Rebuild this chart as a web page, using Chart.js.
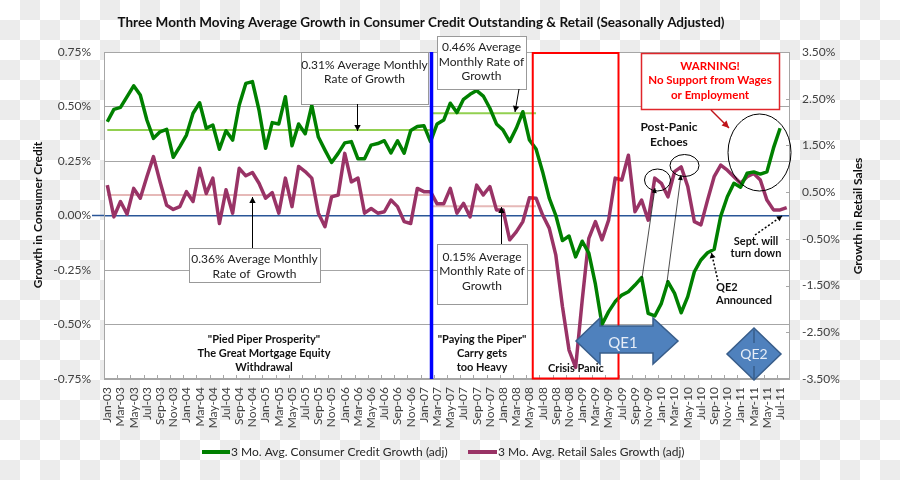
<!DOCTYPE html>
<html><head><meta charset="utf-8">
<script src="https://cdn.jsdelivr.net/npm/chart.js@4.4.1/dist/chart.umd.min.js"></script>
<style>
html,body{margin:0;padding:0;}
body{width:900px;height:480px;overflow:hidden;background:#fff repeating-conic-gradient(#ececec 0% 25%, #ffffff 0% 50%) 0 0/40px 40px;}
#wrap{position:relative;width:900px;height:480px;}
</style></head><body><div id="wrap"><canvas id="c" width="900" height="480"></canvas></div>
<script>
// ---------- DATA ----------
const months = [
'Jan-03','Feb-03','Mar-03','Apr-03','May-03','Jun-03','Jul-03','Aug-03','Sep-03','Oct-03','Nov-03','Dec-03',
'Jan-04','Feb-04','Mar-04','Apr-04','May-04','Jun-04','Jul-04','Aug-04','Sep-04','Oct-04','Nov-04','Dec-04',
'Jan-05','Feb-05','Mar-05','Apr-05','May-05','Jun-05','Jul-05','Aug-05','Sep-05','Oct-05','Nov-05','Dec-05',
'Jan-06','Feb-06','Mar-06','Apr-06','May-06','Jun-06','Jul-06','Aug-06','Sep-06','Oct-06','Nov-06','Dec-06',
'Jan-07','Feb-07','Mar-07','Apr-07','May-07','Jun-07','Jul-07','Aug-07','Sep-07','Oct-07','Nov-07','Dec-07',
'Jan-08','Feb-08','Mar-08','Apr-08','May-08','Jun-08','Jul-08','Aug-08','Sep-08','Oct-08','Nov-08','Dec-08',
'Jan-09','Feb-09','Mar-09','Apr-09','May-09','Jun-09','Jul-09','Aug-09','Sep-09','Oct-09','Nov-09','Dec-09',
'Jan-10','Feb-10','Mar-10','Apr-10','May-10','Jun-10','Jul-10','Aug-10','Sep-10','Oct-10','Nov-10','Dec-10',
'Jan-11','Feb-11','Mar-11','Apr-11','May-11','Jun-11','Jul-11','Aug-11'];

// 3 Mo. Avg. Consumer Credit Growth (adj), % (left axis)
const consumerCredit = [
0.43,0.487,0.496,0.545,0.595,0.553,0.438,0.354,0.384,0.395,0.267,0.316,
0.369,0.469,0.517,0.40,0.415,0.304,0.389,0.346,0.507,0.606,0.614,0.484,
0.308,0.426,0.42,0.545,0.32,0.42,0.375,0.505,0.36,0.30,0.243,0.285,
0.333,0.339,0.26,0.26,0.323,0.33,0.343,0.287,0.343,0.286,0.39,0.408,
0.412,0.339,0.42,0.438,0.515,0.472,0.533,0.556,0.573,0.548,0.492,0.42,
0.392,0.339,0.40,0.476,0.346,0.305,0.20,0.08,0.0,-0.115,-0.094,-0.19,
-0.118,-0.173,-0.315,-0.50,-0.441,-0.395,-0.365,-0.35,-0.319,-0.285,-0.449,-0.461,
-0.403,-0.304,-0.357,-0.446,-0.372,-0.258,-0.204,-0.171,-0.155,-0.003,0.086,0.148,
0.13,0.194,0.20,0.19,0.20,0.31,0.40,null];

// 3 Mo. Avg. Retail Sales Growth (adj), % (right axis)
const retailSales = [
0.65,-0.03,0.30,0.03,0.58,0.37,0.83,1.26,0.72,0.22,0.13,0.19,
0.51,0.30,1.01,0.47,0.80,-0.17,0.55,0.05,1.01,0.85,0.92,0.69,
0.37,0.49,0.05,0.80,0.19,1.05,0.94,0.80,0.05,-0.24,0.40,0.44,
1.33,0.72,0.80,0.05,0.15,0.05,0.08,0.33,0.19,-0.13,-0.17,0.58,
0.51,0.51,0.25,0.25,0.58,0.05,0.26,-0.03,0.65,0.44,0.62,0.12,
0.12,-0.52,-0.35,-0.13,0.38,0.37,0.01,-0.27,-0.85,-1.95,-2.88,-3.25,
-1.81,-0.49,-0.13,-0.52,-0.10,0.80,0.76,1.29,0.08,0.33,-0.10,0.80,
0.69,0.40,0.94,1.04,0.62,-0.13,-0.20,0.33,0.83,1.08,0.97,0.83,
0.69,0.83,0.90,0.76,0.33,0.12,0.12,0.17];

const leftTicks = [0.75,0.50,0.25,0,-0.25,-0.50,-0.75];
const rightTicks = [3.5,2.5,1.5,0.5,-0.5,-1.5,-2.5,-3.5];

// period averages as drawn (left axis for credit, right axis for retail)
const creditAvgBefore = 0.392, creditAvgAfter = 0.469;
const retailAvgBefore = 0.44, retailAvgAfter = 0.20;
const breakIndex = 49;   // Feb-07
const avgEndIndex = 65;  // Jun-08
const crisisStart = 64.5, crisisEnd = 77.5; // Jun-08 .. Jun-09

const seriesNames = ['3 Mo. Avg. Consumer Credit Growth (adj)','3 Mo. Avg. Retail Sales Growth (adj)'];

// ---------- STYLE ----------
const FONT = "Lato, 'Open Sans', sans-serif";
const GREEN = '#008000', PURPLE = '#993366';
const LGREEN = '#92d050', PINK = '#e6b9b8';
const GRID = '#a6a6a6', ZERO = '#2a5698';
const TXT = '#404040';

const seg = (val, from, to) => months.map((m,i)=> (i>=from && i<=to) ? val : null);

function arrow(ctx,x1,y1,x2,y2,color,lw,dash,L,W){
  L = L||6; W = W||3.2;
  ctx.save(); ctx.strokeStyle=color; ctx.fillStyle=color; ctx.lineWidth=lw;
  if(dash) ctx.setLineDash(dash);
  ctx.beginPath(); ctx.moveTo(x1,y1); ctx.lineTo(x2,y2); ctx.stroke(); ctx.setLineDash([]);
  const a=Math.atan2(y2-y1,x2-x1);
  ctx.beginPath(); ctx.moveTo(x2,y2);
  ctx.lineTo(x2-L*Math.cos(a)+W*Math.sin(a), y2-L*Math.sin(a)-W*Math.cos(a));
  ctx.lineTo(x2-L*Math.cos(a)-W*Math.sin(a), y2-L*Math.sin(a)+W*Math.cos(a));
  ctx.closePath(); ctx.fill(); ctx.restore();
}
function lines(ctx, arr, x, y0, dy, font, color, align){
  ctx.save(); ctx.font=font; ctx.fillStyle=color; ctx.textAlign=align||'center'; ctx.textBaseline='middle';
  arr.forEach((t,i)=>ctx.fillText(t,x,y0+i*dy)); ctx.restore();
}
function box(ctx,x,y,w,h,stroke,lw){
  ctx.save(); ctx.fillStyle='#fff'; ctx.fillRect(x,y,w,h);
  ctx.strokeStyle=stroke; ctx.lineWidth=lw||1; ctx.strokeRect(x+0.5,y+0.5,w,h); ctx.restore();
}
function ellipse(ctx,cx,cy,rx,ry){
  ctx.save(); ctx.strokeStyle='#000'; ctx.lineWidth=1; ctx.beginPath();
  ctx.ellipse(cx,cy,rx,ry,0,0,Math.PI*2); ctx.stroke(); ctx.restore();
}

const decor = {
  id:'decor',
  beforeDraw(chart){
    const {ctx, chartArea:a} = chart;
    ctx.save(); ctx.fillStyle='#fff'; ctx.fillRect(a.left,a.top,a.right-a.left,a.bottom-a.top); ctx.restore();
  },
  beforeDatasetsDraw(chart){
    const {ctx, chartArea:a, scales} = chart;
    ctx.save();
    ctx.strokeStyle=GRID; ctx.lineWidth=1;
    ctx.strokeRect(a.left+0.5,a.top+0.5,a.right-a.left-1,a.bottom-a.top-1);
    const xs=scales.x;
    ctx.beginPath();
    for(let k=2;k<months.length;k+=2){ const px=Math.round(xs.getPixelForValue(k-0.5))+0.5; ctx.moveTo(px,a.bottom); ctx.lineTo(px,a.bottom-4); }
    rightTicks.forEach(v=>{ const py=Math.round(scales.y1.getPixelForValue(v))+0.5; ctx.moveTo(a.right-4,py); ctx.lineTo(a.right,py); });
    ctx.stroke();
    const zy=scales.y.getPixelForValue(0);
    ctx.strokeStyle=ZERO; ctx.lineWidth=1.5; ctx.beginPath(); ctx.moveTo(a.left-12,zy); ctx.lineTo(a.left,zy); ctx.stroke();
    ctx.restore();
  },
  afterDatasetsDraw(chart){
    const {ctx, chartArea:a, scales} = chart;
    const xs=scales.x;
    const bx = xs.getPixelForValue(breakIndex)+1;
    ctx.save(); ctx.strokeStyle='#0000ff'; ctx.lineWidth=3.5; ctx.beginPath(); ctx.moveTo(bx,a.top); ctx.lineTo(bx,a.bottom); ctx.stroke();
    const cx1=xs.getPixelForValue(crisisStart), cx2=xs.getPixelForValue(crisisEnd);
    ctx.strokeStyle='#ff0000'; ctx.lineWidth=2; ctx.strokeRect(cx1,a.top+1,cx2-cx1,a.bottom-a.top-1.5);
    ctx.restore();

    const f11b = "bold 11px "+FONT, f12 = "12px "+FONT, f12b="bold 12px "+FONT;
    box(ctx,301,52,127,52,'#999'); lines(ctx,['0.31% Average Monthly','Rate of Growth'],364.5,65,14.5,f12,'#222');
    arrow(ctx,357.5,104,357.5,131,'#000',1);
    box(ctx,437,36,89,53,'#999'); lines(ctx,['0.46% Average','Monthly Rate of','Growth'],481.5,47.5,14.5,f12,'#222');
    arrow(ctx,519,89,515,112,'#000',1);
    box(ctx,189,248,131,34,'#999'); lines(ctx,['0.36% Average Monthly','Rate of  Growth'],254.5,259.5,14.5,f12,'#222');
    arrow(ctx,252.5,248,252.5,197,'#000',1);
    box(ctx,437,244,90,60,'#999'); lines(ctx,['0.15% Average','Monthly Rate of','Growth'],482,257,14.5,f12,'#222');
    arrow(ctx,501.5,244,501.5,207,'#000',1);

    lines(ctx,['"Pied Piper Prosperity"','The Great Mortgage Equity','Withdrawal'],264,339,14.3,f11b,'#111');
    lines(ctx,['"Paying the Piper"','Carry gets','too Heavy'],482,339,14.3,f11b,'#111');
    lines(ctx,['Crisis Panic'],576,368,14,f11b,'#111');

    ctx.save(); ctx.fillStyle='#4f81bd'; ctx.strokeStyle='#385d8a'; ctx.lineWidth=1.5;
    ctx.beginPath();
    [[576,341],[600,318],[600,326],[653,326],[653,318],[678,341],[653,364],[653,353],[600,353],[600,364]].forEach((p,i)=> i?ctx.lineTo(p[0],p[1]):ctx.moveTo(p[0],p[1]));
    ctx.closePath(); ctx.fill(); ctx.stroke();
    ctx.beginPath(); ctx.moveTo(754,328); ctx.lineTo(781,354); ctx.lineTo(754,380); ctx.lineTo(727,354); ctx.closePath(); ctx.fill(); ctx.stroke();
    ctx.strokeStyle='#385d8a'; ctx.lineWidth=1.5; ctx.beginPath(); ctx.moveTo(754,330); ctx.lineTo(754,343); ctx.moveTo(754,366); ctx.lineTo(754,379); ctx.stroke();
    ctx.restore();
    lines(ctx,['QE1'],623,343,14,"15px "+FONT,'#e6edf7');
    lines(ctx,['QE2'],754,354,14,"14px "+FONT,'#e6edf7');

    box(ctx,641,53,138,56,'#e0262b',1.5);
    lines(ctx,['WARNING!','No Support from Wages','or Employment'],710,66,14.5,"bold 11.5px "+FONT,'#ff0000');
    arrow(ctx,711,110,729,128,'#c0141a',1.5,null,7,3.5);
    ellipse(ctx,759.5,152.5,31.5,38.5);

    lines(ctx,['Post-Panic','Echoes'],669,127.5,14.5,f12b,'#111');
    ellipse(ctx,657.5,180,13,11);
    ellipse(ctx,684.5,165.5,14.5,11);
    arrow(ctx,642,278,655,188,'#000',0.7,null,5,2.5);
    arrow(ctx,667,282,681,175,'#000',0.7,null,5,2.5);

    lines(ctx,['Sept. will','turn down'],756,241,12.5,f11b,'#111');
    arrow(ctx,755,235,782,216,'#000',1.5,[2,2],5,3);
    lines(ctx,['QE2','Announced'],716,287.5,13,f11b,'#111','left');
    arrow(ctx,718,281,711.5,253,'#000',1.5,[2,2],5,3);
  },
  afterDraw(chart){
    const {ctx} = chart;
    lines(ctx,['Three Month Moving Average Growth in Consumer Credit Outstanding & Retail (Seasonally Adjusted)'],421,23,14,"bold 13.5px "+FONT,'#111');
    ctx.save(); ctx.font="bold 12px "+FONT; ctx.fillStyle='#111'; ctx.textAlign='center'; ctx.textBaseline='middle';
    ctx.translate(38,215); ctx.rotate(-Math.PI/2); ctx.fillText('Growth in Consumer Credit',0,0); ctx.restore();
    ctx.save(); ctx.font="bold 12px "+FONT; ctx.fillStyle='#111'; ctx.textAlign='center'; ctx.textBaseline='middle';
    ctx.translate(858,216); ctx.rotate(-Math.PI/2); ctx.fillText('Growth in Retail Sales',0,0); ctx.restore();
    ctx.save(); ctx.lineWidth=4; ctx.lineCap='butt';
    ctx.strokeStyle=GREEN; ctx.beginPath(); ctx.moveTo(202,452); ctx.lineTo(230,452); ctx.stroke();
    ctx.strokeStyle=PURPLE; ctx.beginPath(); ctx.moveTo(468,452); ctx.lineTo(497,452); ctx.stroke();
    ctx.restore();
    lines(ctx,[seriesNames[0]],231,452,14,"12px "+FONT,'#262626','left');
    lines(ctx,[seriesNames[1]],498,452,14,"12px "+FONT,'#262626','left');
  }
};

new Chart(document.getElementById('c'), {
  type:'line',
  data:{
    labels: months,
    datasets:[
      {label:seriesNames[0], data:consumerCredit, yAxisID:'y', borderColor:GREEN, borderWidth:3.5, pointRadius:0, tension:0, order:0, borderJoinStyle:'round'},
      {label:seriesNames[1], data:retailSales, yAxisID:'y1', borderColor:PURPLE, borderWidth:3.5, pointRadius:0, tension:0, order:1, borderJoinStyle:'round'},
      {label:'avg1', data:seg(creditAvgBefore,0,breakIndex), yAxisID:'y', borderColor:LGREEN, borderWidth:2, pointRadius:0, order:5},
      {label:'avg2', data:seg(creditAvgAfter,breakIndex,avgEndIndex), yAxisID:'y', borderColor:LGREEN, borderWidth:2, pointRadius:0, order:5},
      {label:'avg3', data:seg(retailAvgBefore,0,breakIndex), yAxisID:'y1', borderColor:PINK, borderWidth:2, pointRadius:0, order:5},
      {label:'avg4', data:seg(retailAvgAfter,breakIndex,avgEndIndex), yAxisID:'y1', borderColor:PINK, borderWidth:2, pointRadius:0, order:5}
    ]
  },
  options:{
    responsive:false, animation:false, devicePixelRatio:1,
    layout:{padding:{top:52,left:0,right:0,bottom:0}},
    plugins:{legend:{display:false}, title:{display:false}, tooltip:{enabled:false}},
    scales:{
      x:{
        type:'category', offset:true,
        grid:{display:false, drawTicks:false}, border:{display:false},
        ticks:{autoSkip:false, maxRotation:90, minRotation:90, padding:8, color:TXT, font:{family:FONT,size:12},
          callback:function(v,i){ return i%2===0 ? this.getLabelForValue(v) : ''; }},
        afterFit:s=>{ s.height=101; }
      },
      y:{
        position:'left', min:-0.75, max:0.75,
        afterBuildTicks:s=>{ s.ticks = leftTicks.map(v=>({value:v})); },
        grid:{drawTicks:false, color:c=> c.tick && c.tick.value===0 ? ZERO : GRID, lineWidth:c=> c.tick && c.tick.value===0 ? 1.5 : 1},
        border:{display:false},
        ticks:{padding:13, color:TXT, font:{family:FONT,size:12}, callback:v=>v.toFixed(2)+'%'},
        afterFit:s=>{ s.width=104; }
      },
      y1:{
        position:'right', min:-3.5, max:3.5,
        afterBuildTicks:s=>{ s.ticks = rightTicks.map(v=>({value:v})); },
        grid:{display:false, drawOnChartArea:false, drawTicks:false}, border:{display:false},
        ticks:{padding:12, color:TXT, font:{family:FONT,size:12}, callback:v=>v.toFixed(2)+'%'},
        afterFit:s=>{ s.width=110; }
      }
    }
  },
  plugins:[decor]
});
</script></body></html>
